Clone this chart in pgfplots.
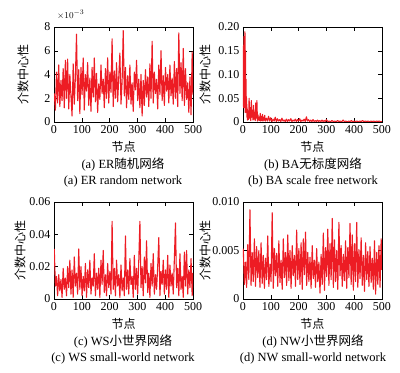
\documentclass[border=0pt]{standalone}
\usepackage{fontspec}
\setmainfont{Liberation Serif}
\newfontfamily\cjk{Noto Sans CJK SC}
\usepackage{pgfplots}
\pgfplotsset{compat=1.18}
\definecolor{lred}{rgb}{0.93,0.11,0.14}
\pgfplotsset{
  myax/.style={
    scale only axis, width=139pt,
    xmin=0, xmax=500, xtick={0,100,200,300,400,500},
    tick align=inside, minor tick num=0,
    scaled y ticks=false, scaled x ticks=false,
    /pgf/number format/assume math mode=true,
    tick label style={font=\fontsize{12}{14}\selectfont},
    xlabel={\cjk 节点},
    ylabel={\cjk 介数中心性},
    label style={font=\fontsize{12}{14}\selectfont},
    xlabel style={at={(axis description cs:0.5,0)}, anchor=center, yshift=-25pt},
    tick style={black, line width=0.4pt},
    axis line style={line width=0.5pt},
    clip mode=individual,
  },
  myline/.style={lred, line width=1.1pt, mark=none, line join=round},
}
\begin{document}
\begin{tikzpicture}
\useasboundingbox (0pt,0pt) rectangle (400pt,373pt);
% (a)
\begin{axis}[myax, at={(54pt,251pt)}, anchor=south west, height=95pt,
  ymin=0, ymax=8, ytick={0,2,4,6,8},
  ylabel style={at={(axis description cs:-0.223,0.5)}, anchor=center}]
\addplot[myline] coordinates {
(1,2.4)(5,1.0)(9,4.2)(13,1.6)(17,4.8)(21,1.3)(25,3.5)(29,1.8)(33,4.5)(37,1.2)
(41,5.2)(45,2.0)(49,5.3)(53,1.1)(57,4.0)(61,2.2)(65,0.5)(69,4.9)(73,1.5)(77,3.8)
(81,7.4)(85,1.8)(89,4.4)(93,0.7)(97,4.6)(101,2.3)(105,5.4)(109,1.0)(113,4.0)(117,2.6)
(121,5.0)(125,1.4)(129,3.7)(133,0.9)(137,4.6)(141,2.1)(145,5.4)(149,1.7)(153,4.1)(157,0.8)
(161,3.2)(165,1.9)(169,4.8)(173,2.4)(177,3.6)(181,1.2)(185,4.5)(189,2.0)(193,5.4)(197,1.6)
(201,4.2)(205,2.5)(209,7.0)(213,1.3)(217,4.3)(221,2.0)(225,5.0)(229,1.7)(233,3.8)(237,5.8)
(241,1.5)(245,3.4)(249,7.7)(253,2.2)(257,4.6)(261,1.2)(265,3.9)(269,1.9)(273,4.8)(277,1.5)
(281,3.3)(285,0.9)(289,4.2)(293,2.7)(297,5.2)(301,1.8)(305,3.6)(309,1.2)(313,4.0)(317,0.5)
(321,3.5)(325,1.4)(329,4.4)(333,2.1)(337,3.8)(341,1.3)(345,4.9)(349,2.0)(353,6.8)(357,1.6)
(361,4.2)(365,2.4)(369,3.6)(373,1.1)(377,4.8)(381,2.3)(385,6.0)(389,1.8)(393,3.9)(397,1.4)
(401,4.6)(405,2.6)(409,4.0)(413,1.6)(417,4.8)(421,2.2)(425,3.7)(429,1.5)(433,5.1)(437,2.0)
(441,4.5)(445,1.3)(449,7.5)(453,2.4)(457,5.0)(461,1.8)(465,6.2)(469,1.4)(473,4.5)(477,1.9)
(481,3.3)(485,0.8)(489,3.8)(493,0.6)(497,5.9)(500,2.3)};
\end{axis}
\node[anchor=west, font=\fontsize{9.5}{10}\selectfont, inner sep=0pt] at (57pt,358pt) {$\times10^{-3}$};
% (b)
\begin{axis}[myax, at={(243pt,251pt)}, anchor=south west, height=95pt,
  ymin=0, ymax=0.2, ytick={0,0.05,0.1,0.15,0.2},
  yticklabels={0,0.05,0.10,0.15,0.20},
  ylabel style={at={(axis description cs:-0.273,0.5)}, anchor=center}]
\addplot[myline] coordinates {
(1,0.16)(2,0.03)(3,0.18)(4,0.05)(5,0.12)(6,0.03)(7,0.19)(8,0.02)(9,0.15)(10,0.04)
(11,0.09)(12,0.02)(13,0.05)(14,0.01)(15,0.03)(16,0.004)(18,0.02)(20,0.005)(22,0.05)(24,0.008)
(26,0.03)(28,0.003)(30,0.045)(32,0.01)(34,0.025)(36,0.004)(38,0.035)(40,0.006)(42,0.02)(44,0.003)
(46,0.04)(48,0.008)(50,0.045)(52,0.002)(54,0.015)(56,0.004)(58,0.01)(60,0.003)(62,0.018)(64,0.002)
(66,0.012)(68,0.003)(70,0.016)(72,0.002)(74,0.01)(76,0.004)(78,0.014)(80,0.002)(84,0.008)(88,0.002)
(92,0.012)(96,0.002)(100,0.009)(104,0.001)(108,0.006)(112,0.002)(116,0.01)(120,0.001)(124,0.007)(128,0.002)
(132,0.005)(136,0.001)(140,0.008)(144,0.002)(148,0.004)(152,0.001)(156,0.006)(160,0.001)(164,0.005)(168,0.002)
(172,0.007)(176,0.001)(180,0.004)(184,0.002)(188,0.006)(192,0.001)(196,0.005)(200,0.002)(204,0.007)(208,0.001)
(212,0.004)(216,0.002)(220,0.006)(224,0.001)(228,0.011)(232,0.002)(236,0.005)(240,0.001)(244,0.004)(248,0.001)
(252,0.005)(256,0.001)(260,0.003)(264,0.001)(268,0.004)(272,0.001)(276,0.003)(280,0.001)(284,0.004)(288,0.001)
(292,0.003)(296,0.001)(300,0.005)(305,0.001)(310,0.002)(315,0.0005)(320,0.003)(325,0.001)(330,0.002)(335,0.0005)
(340,0.003)(345,0.001)(350,0.002)(355,0.0005)(360,0.004)(365,0.001)(370,0.002)(375,0.0005)(380,0.002)(385,0.001)
(390,0.003)(395,0.0005)(400,0.002)(405,0.001)(410,0.002)(415,0.0005)(420,0.002)(425,0.001)(430,0.003)(435,0.0005)
(440,0.002)(445,0.001)(450,0.002)(455,0.0005)(460,0.002)(465,0.001)(470,0.002)(475,0.0005)(480,0.002)(485,0.001)
(490,0.002)(495,0.0005)(500,0.001)};
\end{axis}
% (c)
\begin{axis}[myax, at={(54pt,74pt)}, anchor=south west, height=97pt,
  ymin=0, ymax=0.06, ytick={0,0.02,0.04,0.06},
  yticklabels={0,0.02,0.04,0.06},
  ylabel style={at={(axis description cs:-0.245,0.5)}, anchor=center}]
\addplot[myline] coordinates {
(1,0.031)(5,0.008)(9,0.014)(13,0.002)(17,0.015)(21,0.005)(25,0.012)(29,0.001)(33,0.019)(37,0.006)
(41,0.013)(45,0.002)(49,0.020)(53,0.007)(57,0.024)(61,0.003)(65,0.018)(69,0.001)(73,0.026)(77,0.008)
(81,0.016)(85,0.003)(89,0.031)(93,0.006)(97,0.020)(101,0.002)(105,0.014)(109,0.005)(113,0.022)(117,0.001)
(121,0.018)(125,0.007)(129,0.024)(133,0.003)(137,0.013)(141,0.008)(145,0.028)(149,0.002)(153,0.016)(157,0.006)
(161,0.019)(165,0.001)(169,0.024)(173,0.009)(177,0.030)(181,0.004)(185,0.015)(189,0.002)(193,0.022)(197,0.007)
(201,0.017)(205,0.003)(209,0.048)(213,0.006)(217,0.019)(221,0.002)(225,0.024)(229,0.008)(233,0.015)(237,0.001)
(241,0.021)(245,0.005)(249,0.013)(253,0.002)(257,0.039)(261,0.006)(265,0.018)(269,0.003)(273,0.025)(277,0.009)
(281,0.014)(285,0.001)(289,0.027)(293,0.006)(297,0.019)(301,0.003)(305,0.024)(309,0.048)(313,0.007)(317,0.020)
(321,0.002)(325,0.026)(329,0.010)(333,0.036)(337,0.004)(341,0.016)(345,0.001)(349,0.022)(353,0.008)(357,0.028)
(361,0.003)(365,0.015)(369,0.006)(373,0.020)(377,0.038)(381,0.002)(385,0.017)(389,0.009)(393,0.024)(397,0.003)
(401,0.018)(405,0.006)(409,0.027)(413,0.001)(417,0.021)(421,0.008)(425,0.016)(429,0.003)(433,0.025)(437,0.047)
(441,0.007)(445,0.019)(449,0.002)(453,0.028)(457,0.006)(461,0.014)(465,0.001)(469,0.029)(473,0.008)(477,0.030)
(481,0.003)(485,0.018)(489,0.007)(493,0.025)(497,0.002)(500,0.016)};
\end{axis}
% (d)
\begin{axis}[myax, at={(243pt,74pt)}, anchor=south west, height=97pt,
  ymin=0, ymax=0.01, ytick={0,0.005,0.01},
  yticklabels={0,0.005,0.010},
  ylabel style={at={(axis description cs:-0.273,0.5)}, anchor=center}]
\addplot[myline] coordinates {
(1,0.0052)(5,0.0015)(9,0.0038)(13,0.0012)(17,0.0056)(21,0.0020)(25,0.0092)(29,0.0014)(33,0.0048)(37,0.0018)
(41,0.0062)(45,0.0013)(49,0.0054)(53,0.0022)(57,0.0050)(61,0.0012)(65,0.0058)(69,0.0016)(73,0.0045)(77,0.0011)
(81,0.0042)(85,0.0020)(89,0.0065)(93,0.0013)(97,0.0036)(101,0.0018)(105,0.0089)(109,0.0011)(113,0.0052)(117,0.0024)
(121,0.0047)(125,0.0013)(129,0.0060)(133,0.0017)(137,0.0040)(141,0.0010)(145,0.0062)(149,0.0022)(153,0.0048)(157,0.0014)
(161,0.0066)(165,0.0019)(169,0.0050)(173,0.0011)(177,0.0055)(181,0.0024)(185,0.0045)(189,0.0013)(193,0.0071)(197,0.0020)
(201,0.0052)(205,0.0015)(209,0.0058)(213,0.0010)(217,0.0062)(221,0.0025)(225,0.0069)(229,0.0014)(233,0.0048)(237,0.0018)
(241,0.0043)(245,0.0011)(249,0.0055)(253,0.0021)(257,0.0040)(261,0.0012)(265,0.0052)(269,0.0018)(273,0.0038)(277,0.0006)
(281,0.0046)(285,0.0015)(289,0.0068)(293,0.0009)(297,0.0053)(301,0.0023)(305,0.0072)(309,0.0014)(313,0.0057)(317,0.0020)
(321,0.0083)(325,0.0012)(329,0.0061)(333,0.0018)(337,0.0050)(341,0.0010)(345,0.0079)(349,0.0024)(353,0.0055)(357,0.0013)
(361,0.0046)(365,0.0019)(369,0.0060)(373,0.0011)(377,0.0053)(381,0.0022)(385,0.0078)(389,0.0015)(393,0.0066)(397,0.0009)
(401,0.0057)(405,0.0018)(409,0.0079)(413,0.0012)(417,0.0051)(421,0.0021)(425,0.0063)(429,0.0014)(433,0.0045)(437,0.0008)
(441,0.0058)(445,0.0020)(449,0.0049)(453,0.0013)(457,0.0054)(461,0.0017)(465,0.0042)(469,0.0010)(473,0.0060)(477,0.0005)
(481,0.0048)(485,0.0015)(489,0.0055)(493,0.0012)(497,0.0062)(500,0.0030)};
\end{axis}
% captions
\begin{scope}[every node/.style={font=\fontsize{12.5}{14}\selectfont, inner sep=0pt, anchor=center}]
\node at (123pt,208pt) {(a) ER{\cjk 随机网络}};
\node at (123pt,192pt) {(a) ER random network};
\node at (313pt,208pt) {(b) BA{\cjk 无标度网络}};
\node at (313pt,192pt) {(b) BA scale free network};
\node at (123pt,31pt) {(c) WS{\cjk 小世界网络}};
\node at (123pt,15pt) {(c) WS small-world network};
\node at (313pt,31pt) {(d) NW{\cjk 小世界网络}};
\node at (313pt,15pt) {(d) NW small-world network};
\end{scope}
\end{tikzpicture}
\end{document}
